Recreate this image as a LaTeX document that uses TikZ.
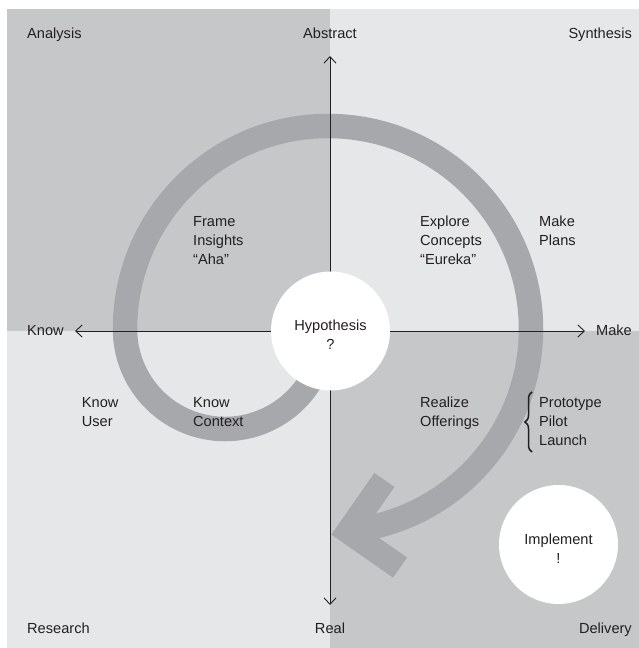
\documentclass[tikz,border=0pt]{standalone}
\usepackage{fontspec}
\setmainfont{Liberation Sans}
\usetikzlibrary{arrows.meta,decorations.pathreplacing,calc}
\definecolor{qdark}{HTML}{C6C7C9}
\definecolor{qlight}{HTML}{E6E7E9}
\definecolor{bandc}{HTML}{A7A8AB}
\definecolor{txt}{HTML}{231F20}
\definecolor{axisc}{HTML}{231F20}
\begin{document}
\begin{tikzpicture}[x=1pt,y=1pt,
  lbl/.style={text=txt, font=\fontsize{14.6}{19}\selectfont, inner sep=0pt, align=left},
  band/.style={draw=bandc, line width=24.5pt, line cap=butt},
  axisline/.style={draw=axisc, line width=0.9pt, arrows={Straight Barb[length=6.5pt,width=12pt]-Straight Barb[length=6.5pt,width=12pt]}},
  bubble/.style={circle, fill=white, minimum size=119pt, inner sep=0pt}]
\useasboundingbox (0,0) rectangle (639,648);
\fill[white] (0,0) rectangle (639,648);
% quadrants
\fill[qdark]  (7,317) rectangle (330,639);
\fill[qlight] (330,317) rectangle (639,639);
\fill[qlight] (7,0) rectangle (330,317);
\fill[qdark]  (330,0) rectangle (639,317);
% spiral band
\coordinate (sp0) at ({225+100*cos(-20)},{319+100*sin(-20)});
\draw[band] (sp0) arc[start angle=-20, end angle=-180, radius=100]
  arc[start angle=180, end angle=-80, radius=203] coordinate (spend)
  -- ++(-14.8,-2.6) coordinate (vtx);
\draw[band, line join=miter] ($(vtx)+(36,51.6)$) -- (vtx) -- ($(vtx)+(51.6,-36.1)$);
% axes
\coordinate (L) at (75,317);
\coordinate (R) at (585,317);
\coordinate (T) at (330,592);
\coordinate (B) at (330,43);
\draw[axisline] (L) -- (R);
\draw[axisline] (T) -- (B);
% bubbles
\node[bubble] (hyp) at (330.5,317) {};
\node[bubble] (impl) at (558.5,103.5) {};
\node[lbl, align=center, anchor=base] (hyptext) at (330.5,298) {Hypothesis\\?};
\node[lbl, align=center, anchor=base] (impltext) at (558.5,84) {Implement\\!};
% corner labels
\node[lbl, anchor=base west] (analysis) at (27,609) {Analysis};
\node[lbl, anchor=base] (abstract) at (330,609) {Abstract};
\node[lbl, anchor=base east] (synthesis) at (632,609) {Synthesis};
\node[lbl, anchor=base west] (research) at (27,14) {Research};
\node[lbl, anchor=base] (real) at (330,14) {Real};
\node[lbl, anchor=base east] (delivery) at (632,14) {Delivery};
\node[lbl, anchor=base west] (know) at (27,312) {Know};
\node[lbl, anchor=base east] (make) at (632,312) {Make};
% inner labels (base = last line)
\node[lbl, anchor=base west] (frame) at (193,383.3) {Frame\\Insights\\“Aha”};
\node[lbl, anchor=base west] (explore) at (420,383.3) {Explore\\Concepts\\“Eureka”};
\node[lbl, anchor=base west] (plans) at (539,402.3) {Make\\Plans};
\node[lbl, anchor=base west] (user) at (81.7,221.3) {Know\\User};
\node[lbl, anchor=base west] (context) at (193,221.3) {Know\\Context};
\node[lbl, anchor=base west] (realize) at (420,221.3) {Realize\\Offerings};
\node[lbl, anchor=base west] (proto) at (539,202.3) {Prototype\\Pilot\\Launch};
\draw[draw=axisc, line width=1.5pt, decorate, decoration={brace, amplitude=7pt}]
  (532,196) -- (532,256);
\end{tikzpicture}
\end{document}
